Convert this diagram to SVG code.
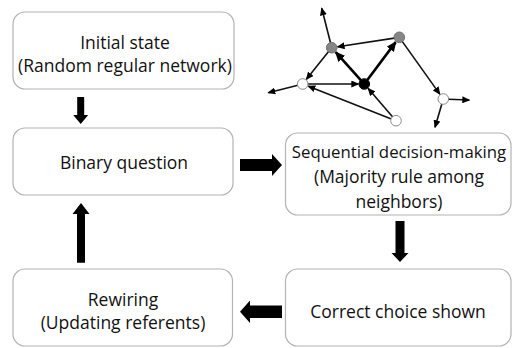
<svg xmlns="http://www.w3.org/2000/svg" width="513" height="348" viewBox="0 0 513 348">
<defs>
<style>
.box{fill:#fff;stroke:#b3b3b3;stroke-width:1.2}
.t{font-family:"Open Sans","Liberation Sans",sans-serif;font-size:17.5px;fill:#111;text-anchor:middle}
.e{stroke:#111;stroke-width:1.6;fill:none;marker-end:url(#ah)}
.et{stroke:#000;stroke-width:2.6;fill:none;marker-end:url(#ahb)}
.big{fill:#000}
.nw{fill:#fff;stroke:#8a8a8a;stroke-width:1}
.ng{fill:#858585;stroke:#6e6e6e;stroke-width:1}
.nb{fill:#000;stroke:#000;stroke-width:1}
</style>
<marker id="ah" markerUnits="userSpaceOnUse" viewBox="0 0 8 7" refX="7" refY="3.5" markerWidth="8" markerHeight="7" orient="auto"><path d="M0,0 L8,3.5 L0,7 z" fill="#000"/></marker>
<marker id="ahb" markerUnits="userSpaceOnUse" viewBox="0 0 10 9" refX="9" refY="4.5" markerWidth="10" markerHeight="9" orient="auto"><path d="M0,0 L10,4.5 L0,9 z" fill="#000"/></marker>
</defs>
<rect width="513" height="348" fill="#fff"/>
<g id="connectors">
<polygon class="big" points="77.2,97 84.2,97 84.2,115 88.2,115 80.7,124 73.2,115 77.2,115"/>
<polygon class="big" points="77,262.7 85,262.7 85,214 89.5,214 81,203 72.5,214 77,214"/>
<polygon class="big" points="395.5,221 404.5,221 404.5,253 408.5,253 400,262 391.5,253 395.5,253"/>
<polygon class="big" points="240,159 272,159 272,154 282,165 272,176 272,171 240,171"/>
<polygon class="big" points="282,305.5 250,305.5 250,300.5 240,311.7 250,323 250,318 282,318"/>
<g id="network-edges">
<line class="e" x1="330.5" y1="42.8" x2="321.7" y2="8.3"/>
<line class="e" x1="394.4" y1="38.1" x2="337.6" y2="46.8"/>
<line class="e" x1="328.6" y1="51.6" x2="306.4" y2="79.3"/>
<line class="e" x1="297.9" y1="85.2" x2="268.3" y2="92.7"/>
<line class="e" x1="307.7" y1="84" x2="358.3" y2="84"/>
<line class="et" x1="361" y1="80.3" x2="335.7" y2="52.2"/>
<line class="et" x1="367.3" y1="80" x2="395.7" y2="42.1"/>
<line class="e" x1="391.4" y1="118.9" x2="308.3" y2="86.2"/>
<line class="e" x1="392.7" y1="116.9" x2="368.2" y2="88.5"/>
<line class="e" x1="402.2" y1="41.4" x2="439.8" y2="94.1"/>
<line class="e" x1="448.3" y1="99.2" x2="469.3" y2="100"/>
<line class="e" x1="441.9" y1="103.8" x2="435" y2="127.3"/>
</g>
</g>
<g id="network-nodes">
<circle id="nA" class="ng" cx="331.7" cy="47.7" r="5.3"/>
<circle id="nB" class="ng" cx="399.3" cy="37.3" r="5.3"/>
<circle id="nC" class="nb" cx="364.3" cy="84" r="5.3"/>
<circle id="nD" class="nw" cx="302.7" cy="84" r="5.3"/>
<circle id="nE" class="nw" cx="396" cy="120.7" r="5.3"/>
<circle id="nF" class="nw" cx="443.3" cy="99" r="5.3"/>
</g>
<g id="initial">
<rect class="box" x="13" y="12" width="221" height="77" rx="12"/>
<text class="t" x="125" y="49">Initial state</text>
<text class="t" x="125" y="72">(Random regular network)</text>
</g>
<g id="binary">
<rect class="box" x="13" y="128" width="220" height="67" rx="12"/>
<text class="t" x="124" y="169">Binary question</text>
</g>
<g id="sequential">
<rect class="box" x="285.5" y="133" width="225.5" height="82" rx="12"/>
<text class="t" x="399" y="158" style="font-size:16.8px">Sequential decision-making</text>
<text class="t" x="399" y="183">(Majority rule among</text>
<text class="t" x="399" y="208">neighbors)</text>
</g>
<g id="rewiring">
<rect class="box" x="13" y="269" width="219.5" height="77" rx="12"/>
<text class="t" x="123" y="306">Rewiring</text>
<text class="t" x="123" y="329">(Updating referents)</text>
</g>
<g id="correct">
<rect class="box" x="285.5" y="269" width="225.5" height="77" rx="12"/>
<text class="t" x="398" y="318">Correct choice shown</text>
</g>
</svg>
